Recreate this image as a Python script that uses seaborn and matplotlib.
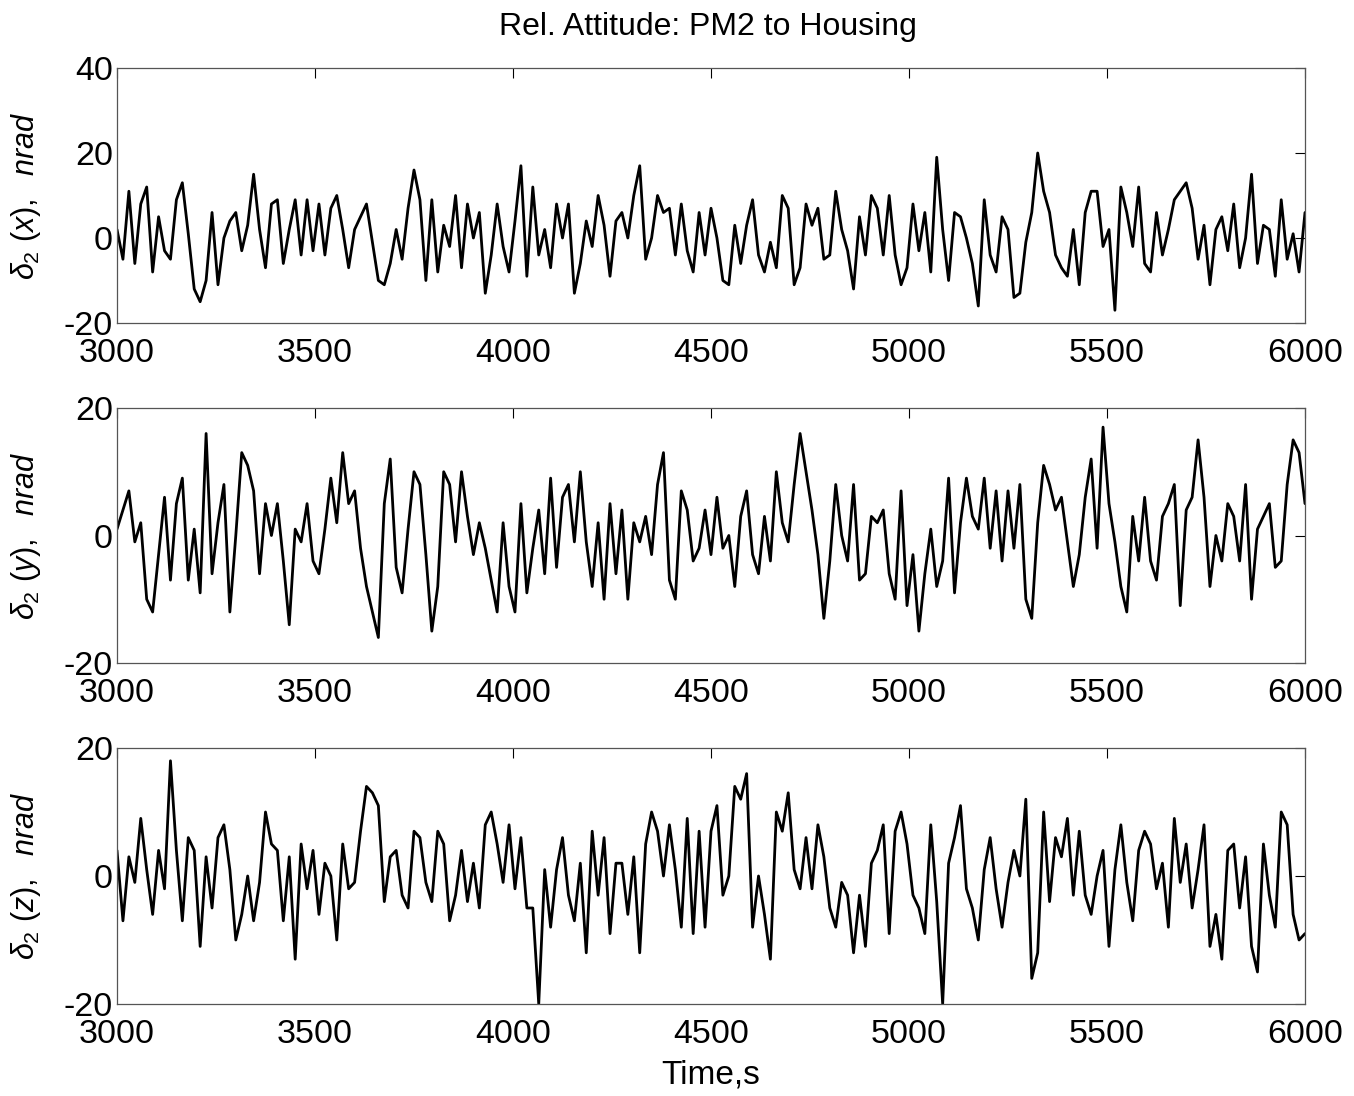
import numpy as np
import pandas as pd
import matplotlib
matplotlib.use("Agg")
import matplotlib.pyplot as plt
import seaborn as sns

# ---- data (one value every 15 s, 3000 s .. 6000 s) ----
T_START = 3000
T_STEP = 15

theta_x = [
    2, -5, 11, -6, 8, 12, -8, 5, -3, -5, 9, 13, 1, -12, -15, -10, 6, -11, 0, 4,
    6, -3, 3, 15, 2, -7, 8, 9, -6, 2, 9, -4, 9, -3, 8, -4, 7, 10, 2, -7,
    2, 5, 8, -1, -10, -11, -6, 2, -5, 7, 16, 9, -10, 9, -8, 3, -2, 10, -7, 8,
    0, 6, -13, -4, 8, -2, -8, 4, 17, -9, 12, -4, 2, -7, 8, 0, 8, -13, -6, 4,
    -2, 10, 3, -9, 4, 6, 0, 10, 17, -5, 0, 10, 6, 7, -4, 8, -3, -8, 6, -4,
    7, 0, -10, -11, 3, -6, 3, 9, -4, -8, -1, -7, 10, 7, -11, -7, 8, 3, 7, -5,
    -4, 11, 2, -3, -12, 5, -4, 10, 7, -4, 10, -4, -11, -7, 8, -3, 6, -8, 19, 2,
    -10, 6, 5, 0, -6, -16, 9, -4, -8, 5, 2, -14, -13, -1, 6, 20, 11, 6, -4, -7,
    -9, 2, -11, 6, 11, 11, -2, 2, -17, 12, 6, -2, 12, -6, -8, 6, -4, 2, 9, 11,
    13, 7, -5, 3, -11, 2, 5, -3, 8, -7, 0, 15, -6, 3, 2, -9, 9, -5, 1, -8,
    6,
]

theta_y = [
    1, 4, 7, -1, 2, -10, -12, -3, 6, -7, 5, 9, -7, 1, -9, 16, -6, 2, 8, -12,
    0, 13, 11, 7, -6, 5, 0, 5, -4, -14, 1, -1, 5, -4, -6, 1, 9, 2, 13, 5,
    7, -2, -8, -12, -16, 5, 12, -5, -9, 1, 10, 8, -3, -15, -8, 10, 8, -1, 10, 3,
    -3, 2, -2, -7, -12, 2, -8, -12, 5, -9, -2, 4, -6, 9, -5, 6, 8, -1, 10, -1,
    -8, 2, -10, 5, -6, 4, -10, 2, -1, 3, -3, 8, 13, -7, -10, 7, 4, -4, -2, 4,
    -3, 6, -2, 0, -8, 3, 7, -3, -6, 3, -4, 10, 2, -1, 8, 16, 10, 4, -3, -13,
    -4, 8, 0, -4, 8, -7, -6, 3, 2, 4, -6, -10, 7, -11, -3, -15, -6, 1, -8, -4,
    9, -9, 2, 9, 3, 1, 9, -2, 7, -4, 7, -2, 8, -10, -13, 2, 11, 8, 4, 6,
    -1, -8, -3, 6, 12, -2, 17, 5, -1, -8, -12, 3, -4, 6, -4, -7, 3, 5, 8, -11,
    4, 6, 15, 6, -8, 0, -4, 5, 3, -4, 8, -10, 1, 3, 5, -5, -4, 8, 15, 13,
    5,
]

theta_z = [
    4, -7, 3, -1, 9, 1, -6, 4, -2, 18, 4, -7, 6, 4, -11, 3, -5, 6, 8, 1,
    -10, -6, 0, -7, -1, 10, 5, 4, -7, 3, -13, 5, -2, 4, -6, 2, 0, -10, 5, -2,
    -1, 7, 14, 13, 11, -4, 3, 4, -3, -5, 7, 6, -1, -4, 7, 5, -7, -3, 4, -4,
    2, -5, 8, 10, 5, -1, 8, -2, 6, -5, -5, -20, 1, -8, 1, 6, -3, -7, 2, -12,
    7, -3, 6, -9, 2, 2, -6, 3, -12, 5, 10, 7, 0, 8, 1, -8, 9, -9, 7, -8,
    7, 11, -3, 0, 14, 12, 16, -8, 0, -6, -13, 10, 7, 13, 1, -2, 6, -2, 8, 3,
    -5, -8, -1, -3, -12, -3, -11, 2, 4, 8, -9, 7, 10, 5, -3, -5, -9, 8, -4, -20,
    2, 6, 11, -2, -5, -10, 1, 6, -2, -8, -1, 4, 0, 12, -16, -12, 10, -4, 6, 3,
    9, -3, 7, -3, -6, 0, 4, -11, 1, 8, -1, -7, 4, 7, 5, -2, 2, -8, 9, -1,
    5, -5, 1, 8, -11, -6, -13, 4, 5, -5, 3, -11, -15, 5, -3, -8, 10, 8, -6, -10,
    -9,
]

series = [theta_x, theta_y, theta_z]
axis_names = ["x", "y", "z"]
y_limits = [(-20, 40), (-20, 20), (-20, 20)]
y_ticks = [[-20, 0, 20, 40], [-20, 0, 20], [-20, 0, 20]]
x_ticks = [3000, 3500, 4000, 4500, 5000, 5500, 6000]
title = "Rel. Attitude: PM2 to Housing"
x_label = "Time,s"

# ---- styling ----
sns.set_style("white")
plt.rcParams["font.family"] = ["Liberation Sans", "DejaVu Sans"]
plt.rcParams["mathtext.fontset"] = "custom"
plt.rcParams["mathtext.rm"] = "Liberation Sans"
plt.rcParams["mathtext.it"] = "Liberation Sans:italic"
plt.rcParams["mathtext.bf"] = "Liberation Sans:bold"
plt.rcParams["axes.unicode_minus"] = False
plt.rcParams["text.color"] = "black"
plt.rcParams["axes.labelcolor"] = "black"

fig = plt.figure(figsize=(13.54, 10.96), dpi=100)
W, H = 1354, 1096
left_px, right_px = 117, 1305
panel_px = [(68, 323), (408, 663), (748, 1004)]

for i, (vals, name) in enumerate(zip(series, axis_names)):
    top, bot = panel_px[i]
    ax = fig.add_axes([left_px / W, 1 - bot / H, (right_px - left_px) / W, (bot - top) / H])
    df = pd.DataFrame({"t": T_START + T_STEP * np.arange(len(vals)), "v": vals})
    sns.lineplot(data=df, x="t", y="v", ax=ax, color="black", linewidth=2.0)
    ax.set_xlim(3000, 6000)
    ax.set_ylim(*y_limits[i])
    ax.set_xticks(x_ticks)
    ax.set_yticks(y_ticks[i])
    ax.tick_params(direction="in", top=True, right=True, length=7, width=0.8,
                   labelsize=24.5, colors="black")
    ax.tick_params(axis="x", pad=11)
    ax.tick_params(axis="y", pad=3)
    for s in ax.spines.values():
        s.set_color("#555555")
        s.set_linewidth(0.9)
    ax.set_xlabel("")
    ax.set_ylabel(r"$\delta_2\ (%s),\ \ nrad$" % name, fontsize=22)
    ax.yaxis.set_label_coords(-0.062, 0.5)

fig.text(0.523, 1 - 27 / H, title, ha="center", va="center", fontsize=23)
fig.text(0.525, 1 - 1075 / H, x_label, ha="center", va="center", fontsize=24)

fig.savefig("out.png", dpi=100, facecolor="white")
